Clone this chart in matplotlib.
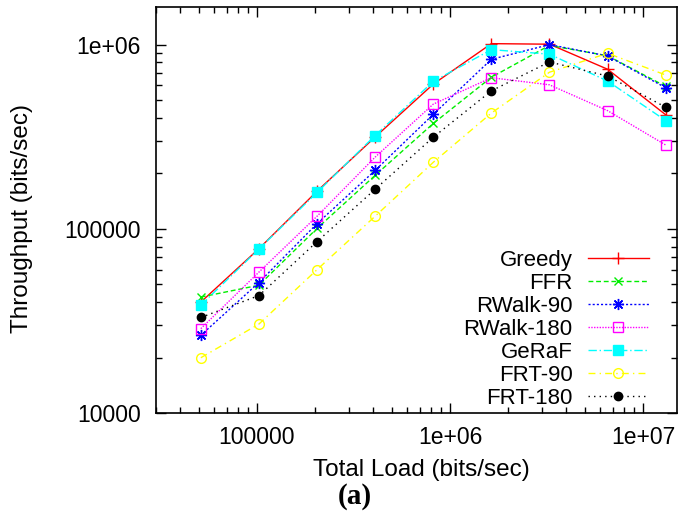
import matplotlib
matplotlib.use("Agg")
import matplotlib.pyplot as plt
import numpy as np

plt.rcParams["font.family"] = ["Liberation Sans", "DejaVu Sans"]

# données
charge = [51200, 102400, 204800, 409600, 819200, 1638400, 3276800, 6553600, 13107200]

greedy = [40000, 78000, 160000, 315000, 610000, 1012000, 1005000, 735000, 416000]
ffr = [42600, 49400, 100500, 195000, 373000, 665000, 990000, 870000, 593000]
rwalk90 = [26400, 51100, 106700, 207500, 418000, 832000, 1000000, 867000, 583000]
rwalk180 = [28700, 58200, 117000, 245000, 475000, 661000, 605000, 438000, 285000]
geraf = [38500, 77700, 157500, 321000, 631000, 939000, 887000, 634000, 387000]
frt90 = [19950, 30400, 60000, 117000, 229500, 425000, 708000, 897000, 684000]
frt180 = [33000, 43400, 85200, 164000, 314000, 561000, 805000, 675000, 457000]

noms = ["Greedy", "FFR", "RWalk-90", "RWalk-180", "GeRaF", "FRT-90", "FRT-180"]
series = [greedy, ffr, rwalk90, rwalk180, geraf, frt90, frt180]

styles = [
    dict(color="#ff0000", marker="+", ms=9, ls="-"),
    dict(color="#00ee00", marker="x", ms=6, dashes=(3.5, 2)),
    dict(color="#0000ff", marker=(8, 2, 0), ms=8, dashes=(1.5, 1.5)),
    dict(color="#ff00ff", marker="s", ms=7, mfc="none", dashes=(1, 1)),
    dict(color="#00ffff", marker="s", ms=7, dashes=(6, 2, 1, 2)),
    dict(color="#ffff00", marker="o", ms=7, mfc="none", dashes=(5, 3, 1, 3)),
    dict(color="#000000", marker="o", ms=6, dashes=(1, 3)),
]

fig = plt.figure(figsize=(6.82, 5.18), dpi=100)
ax = fig.add_axes([156 / 682, 1 - 413 / 518, 521 / 682, 406 / 518])

for nom, y, st in zip(noms, series, styles):
    ax.plot(charge, y, label=nom, lw=1.0, mew=1.0, **st)

ax.set_xscale("log")
ax.set_yscale("log")
ax.set_xlim(30000, 15000000)
ax.set_ylim(10000, 1.6e6)

ax.set_xticks([1e5, 1e6, 1e7])
ax.set_xticklabels(["100000", "1e+06", "1e+07"])
ax.set_yticks([1e4, 1e5, 1e6])
ax.set_yticklabels(["10000", "100000", "1e+06"])

ax.tick_params(which="both", direction="in", top=True, right=True, labelsize=16.5)
ax.tick_params(which="major", length=7, width=1)
ax.tick_params(which="minor", length=4, width=1)
ax.tick_params(axis="x", pad=9.5)
ax.tick_params(axis="y", pad=11)
for s in ax.spines.values():
    s.set_linewidth(1.2)

ax.set_xlabel("Total Load (bits/sec)", fontsize=17.5)
ax.set_ylabel("Throughput (bits/sec)", fontsize=17.5)
ax.xaxis.set_label_coords(0.509, -0.113)
ax.yaxis.set_label_coords(-0.236, 0.48)

ax.legend(loc="lower right", bbox_to_anchor=(0.946, 0.01), frameon=False,
          markerfirst=False, fontsize=16, handlelength=2.75, handletextpad=0.68,
          labelspacing=0.09, borderpad=0, borderaxespad=0)

fig.text(355 / 682, 1 - 497 / 518, "(a)", family="Liberation Serif",
         weight="bold", fontsize=21, ha="center", va="center")

fig.savefig("out.png", dpi=100)
